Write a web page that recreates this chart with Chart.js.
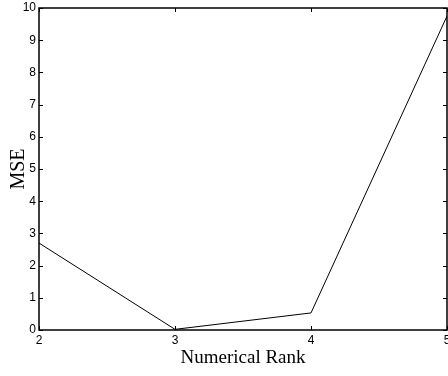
<!DOCTYPE html>
<html>
<head>
<meta charset="utf-8">
<script src="https://cdn.jsdelivr.net/npm/chart.js@4"></script>
<style>
  html, body { margin: 0; padding: 0; background: #fff; }
  #wrap { width: 448px; height: 376px; }
</style>
</head>
<body>
<div id="wrap"><canvas id="grafico" width="448" height="376"></canvas></div>
<script>
const rangos = [2, 3, 4, 5];
const mse = [2.7, 0.02, 0.53, 9.75];
const ticksX = [2, 3, 4, 5];
const ticksY = [0, 1, 2, 3, 4, 5, 6, 7, 8, 9, 10];

// marco y marcas hacia dentro, como en matlab
const marco = {
    id: "marco",
    afterDraw(chart) {
        const ctx = chart.ctx;
        const a = chart.chartArea;
        const sx = chart.scales.x;
        const sy = chart.scales.y;
        ctx.save();
        ctx.strokeStyle = "#000";
        ctx.lineWidth = 1;
        ctx.beginPath();
        ticksX.forEach(v => {
            const px = Math.round(sx.getPixelForValue(v)) + 0.5;
            ctx.moveTo(px, a.bottom);
            ctx.lineTo(px, a.bottom - 4);
            ctx.moveTo(px, a.top);
            ctx.lineTo(px, a.top + 4);
        });
        ticksY.forEach(v => {
            const py = Math.round(sy.getPixelForValue(v)) + 0.5;
            ctx.moveTo(a.left, py);
            ctx.lineTo(a.left + 4, py);
            ctx.moveTo(a.right, py);
            ctx.lineTo(a.right - 4, py);
        });
        ctx.stroke();
        ctx.lineWidth = 1.5;
        ctx.strokeRect(a.left, a.top, a.right - a.left, a.bottom - a.top);
        ctx.restore();
    }
};

const ctx = document.getElementById("grafico").getContext("2d");
new Chart(ctx, {
    type: "line",
    data: {
        datasets: [{
            data: rangos.map((r, i) => ({ x: r, y: mse[i] })),
            borderColor: "#000",
            borderWidth: 1,
            pointRadius: 0,
            tension: 0,
            fill: false
        }]
    },
    options: {
        responsive: false,
        animation: false,
        layout: { padding: { top: 8, right: 1, left: 0, bottom: 0 } },
        plugins: { legend: { display: false }, tooltip: { enabled: false } },
        scales: {
            x: {
                type: "linear",
                min: 2,
                max: 5,
                afterBuildTicks: s => { s.ticks = ticksX.map(v => ({ value: v })); },
                afterFit: s => { s.height = 46; s.paddingLeft = 0; s.paddingRight = 0; },
                grid: { drawOnChartArea: false, drawTicks: false },
                border: { display: false },
                ticks: {
                    color: "#000",
                    padding: 3,
                    maxRotation: 0,
                    font: { family: "Liberation Sans", size: 12 }
                },
                title: {
                    display: true,
                    text: "Numerical Rank",
                    color: "#000",
                    padding: { top: 0, bottom: 7 },
                    font: { family: "Liberation Serif", size: 19 }
                }
            },
            y: {
                min: 0,
                max: 10,
                afterBuildTicks: s => { s.ticks = ticksY.map(v => ({ value: v })); },
                afterFit: s => { s.width = 39; s.paddingTop = 0; s.paddingBottom = 0; },
                grid: { drawOnChartArea: false, drawTicks: false },
                border: { display: false },
                ticks: {
                    color: "#000",
                    padding: 3,
                    font: { family: "Liberation Sans", size: 12 }
                },
                title: {
                    display: true,
                    text: "MSE",
                    color: "#000",
                    padding: { top: 7, bottom: 0 },
                    font: { family: "Liberation Serif", size: 20 }
                }
            }
        }
    },
    plugins: [marco]
});
</script>
</body>
</html>
